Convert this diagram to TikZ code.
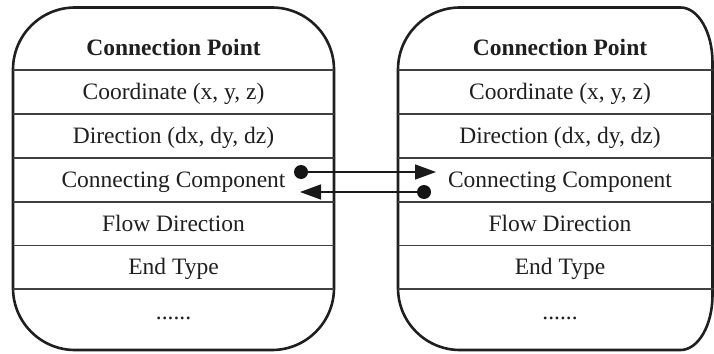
\documentclass[tikz,border=0pt]{standalone}
\usepackage{fontspec}
\setmainfont{Liberation Serif}
\usetikzlibrary{arrows.meta}
\begin{document}
\begin{tikzpicture}[x=1pt,y=1pt,
  boxline/.style={line width=2.6pt,draw=black!88},
  sepline/.style={line width=1.3pt,draw=black!75},
  conn/.style={line width=1.5pt,draw=black!90},
  txt/.style={anchor=base,inner sep=0pt,text=black!88,font=\fontsize{23.5}{28}\selectfont},
  ttl/.style={txt,font=\fontsize{23.5}{28}\selectfont\bfseries},
  dotfill/.style={fill=black!92}]
\useasboundingbox (0,0) rectangle (714,-353);
% left box
\draw[boxline,rounded corners=62pt] (13,-7.5) rectangle (334,-350);
\foreach \yy in {70,114,158,202,245.5,289}
  \draw[sepline] (13,-\yy) -- (334,-\yy);
% right box
\draw[boxline] (460,-7.5) -- (680.5,-7.5)
  arc[start angle=90,end angle=0,x radius=32,y radius=55] -- (712.5,-295)
  arc[start angle=0,end angle=-90,x radius=32,y radius=55] -- (460,-350)
  arc[start angle=270,end angle=180,radius=62] -- (398,-69.5)
  arc[start angle=180,end angle=90,radius=62] -- cycle;
\foreach \yy in {70,114,158,202,245.5,289}
  \draw[sepline] (398,-\yy) -- (712.5,-\yy);
% left texts
\node[ttl] (lt) at (173.5,-56) {Connection Point};
\node[txt] (lc) at (173.5,-99.5) {Coordinate (x, y, z)};
\node[txt] (ld) at (173.5,-143) {Direction (dx, dy, dz)};
\node[txt] (lk) at (173.5,-187) {Connecting Component};
\node[txt] (lf) at (173.5,-231) {Flow Direction};
\node[txt] (le) at (173.5,-274.5) {End Type};
\node[txt] (lm) at (173.5,-319) {......};
% right texts
\node[ttl] (rt) at (560,-56) {Connection Point};
\node[txt] (rc) at (560,-99.5) {Coordinate (x, y, z)};
\node[txt] (rd) at (560,-143) {Direction (dx, dy, dz)};
\node[txt] (rk) at (560,-187) {Connecting Component};
\node[txt] (rf) at (560,-231) {Flow Direction};
\node[txt] (re) at (560,-274.5) {End Type};
\node[txt] (rm) at (560,-319) {......};
% connectors
\coordinate (ldot) at (301,-172);
\coordinate (rtip) at (436,-172);
\coordinate (rdot) at (424,-192);
\coordinate (ltip) at (300,-192);
\draw[conn,-{Triangle[length=21pt,width=15pt]}] (ldot) -- (rtip);
\draw[conn,-{Triangle[length=21pt,width=15pt]}] (rdot) -- (ltip);
\fill[dotfill] (ldot) circle (7pt);
\fill[dotfill] (rdot) circle (7pt);
\end{tikzpicture}
\end{document}
